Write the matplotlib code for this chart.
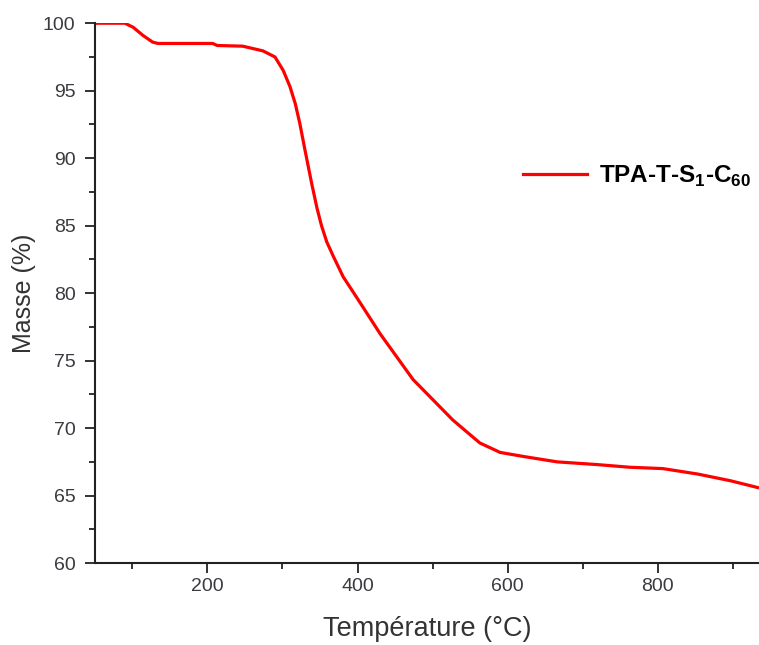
import matplotlib
matplotlib.use("Agg")
import matplotlib.pyplot as plt
from matplotlib.ticker import MultipleLocator

plt.rcParams['font.family'] = ['Liberation Sans', 'DejaVu Sans']
plt.rcParams['mathtext.fontset'] = 'custom'
plt.rcParams['mathtext.rm'] = 'Liberation Sans'
plt.rcParams['mathtext.bf'] = 'Liberation Sans:bold'

# TGA curve
temperature = [50, 70, 90, 101, 114, 127, 134, 170, 207, 213, 247, 274, 290, 301,
               310, 317, 323, 330, 339, 346, 352, 359, 368, 381, 394, 408, 430, 474,
               527, 563, 590, 621, 666, 719, 763, 807, 853, 897, 933]
mass = [100.0, 100.0, 100.0, 99.7, 99.1, 98.6, 98.5, 98.5, 98.5, 98.35, 98.3, 97.95,
        97.5, 96.5, 95.3, 94.05, 92.6, 90.6, 88.1, 86.3, 85.0, 83.8, 82.7, 81.2,
        80.1, 78.9, 77.0, 73.6, 70.6, 68.9, 68.2, 67.9, 67.5, 67.3, 67.1, 67.0,
        66.6, 66.1, 65.6]
series_label = r'TPA-T-S$_\mathbf{1}$-C$_\mathbf{60}$'

fig = plt.figure(figsize=(7.59, 6.45), dpi=100)
ax = fig.add_axes([0.125, 0.127, 0.875, 0.837])
ax.plot(temperature, mass, color='#ff0000', lw=2.3, label=series_label)

ax.set_xlim(50, 935)
ax.set_ylim(60, 100)
ax.xaxis.set_major_locator(MultipleLocator(200))
ax.xaxis.set_minor_locator(MultipleLocator(100))
ax.yaxis.set_major_locator(MultipleLocator(5))
ax.yaxis.set_minor_locator(MultipleLocator(2.5))
ax.tick_params(which='both', direction='out', width=1.3, colors='#222222',
               labelcolor='#3a3a40', labelsize=14)
ax.tick_params(which='major', length=7)
ax.tick_params(which='minor', length=4)
ax.tick_params(axis='y', which='major', pad=7)
ax.tick_params(axis='x', which='major', pad=4)
for side in ['top', 'right']:
    ax.spines[side].set_visible(False)
for side in ['left', 'bottom']:
    ax.spines[side].set_linewidth(1.5)
    ax.spines[side].set_color('#222222')

ax.set_xlabel('Température (°C)', fontsize=19.5, color='#333333', labelpad=15)
ax.set_ylabel('Masse (%)', fontsize=18, color='#333333', labelpad=5)

leg = ax.legend(loc='center left', bbox_to_anchor=(0.611, 0.717), frameon=False,
                handlelength=2.65, handletextpad=0.5,
                prop={'weight': 'bold', 'size': 17.5})

fig.savefig('out.png', dpi=100)
